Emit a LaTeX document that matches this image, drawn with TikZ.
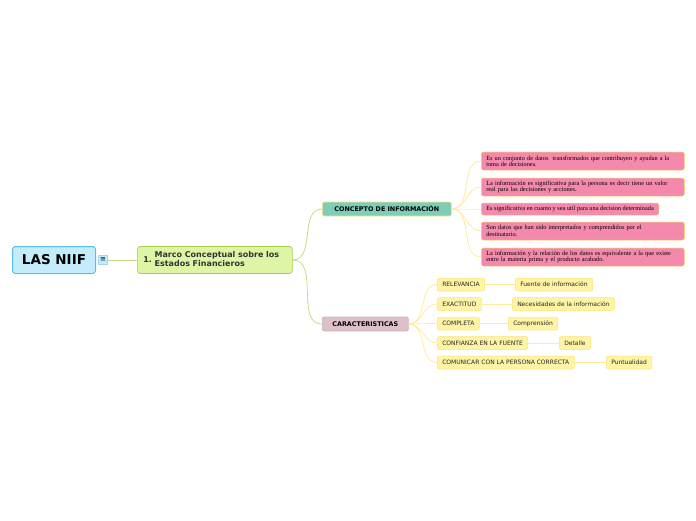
\documentclass[tikz,border=0pt]{standalone}
\usepackage{fontspec}
\setmainfont{DejaVu Sans}
\newfontfamily\notefont{Liberation Serif}
\usepackage{xcolor}
\usetikzlibrary{positioning}
\definecolor{rootfill}{HTML}{C4ECFB}
\definecolor{rootline}{HTML}{5BBCE8}
\definecolor{mainfill}{HTML}{DFF5A6}
\definecolor{mainline}{HTML}{A6CF4A}
\definecolor{conceptfill}{HTML}{7DCDB8}
\definecolor{charfill}{HTML}{DEC0C9}
\definecolor{notefill}{HTML}{F488AD}
\definecolor{itemfill}{HTML}{FFF3A6}
\definecolor{itemline}{HTML}{FFE37A}
\definecolor{branch}{HTML}{C9D98C}
\definecolor{twig}{HTML}{FFEB9C}

\begin{document}
\begin{tikzpicture}[
    x=1pt, y=-1pt,
    font=\fontsize{6}{7}\selectfont,
    root/.style={
      draw=rootline, fill=rootfill, line width=1pt, rounded corners=3pt,
      minimum width=83pt, minimum height=27pt, anchor=west,
      font=\fontsize{13.5}{15}\selectfont\bfseries
    },
    topic/.style={
      draw=mainline, fill=mainfill, line width=0.7pt, rounded corners=3pt,
      text width=143pt, inner xsep=6pt, minimum height=27pt, anchor=west, align=left,
      font=\fontsize{8}{8.6}\selectfont\bfseries, text=black!80
    },
    sub/.style={
      draw=itemline, line width=0.7pt, rounded corners=2pt,
      minimum height=14pt, anchor=west, inner xsep=5pt,
      font=\fontsize{6.4}{7}\selectfont\bfseries
    },
    note/.style={
      draw=itemline!80!orange, fill=notefill, line width=0.5pt, rounded corners=2pt,
      anchor=west, align=left, inner xsep=5pt, inner ysep=2pt,
      font=\notefont\fontsize{6.3}{6.3}\selectfont
    },
    item/.style={
      draw=itemline, fill=itemfill, line width=0.5pt, rounded corners=2pt,
      minimum height=13pt, anchor=west, inner xsep=5pt, text=black!85
    },
    limb/.style={branch, line width=0.8pt},
    twigline/.style={twig, line width=0.8pt}
  ]
    \useasboundingbox (0,0) rectangle (696,520);

    % root and first topic
    \node[root] (niif) at (12,260) {LAS NIIF};
    \node[draw=rootline!60, fill=rootfill, minimum size=9pt, inner sep=0pt,
      font=\fontsize{7}{7}\selectfont] (fold) at (103,260) {≡};
    \node[topic] (marco) at (137,260) {1.\ \begin{tabular}{@{}l@{}}Marco Conceptual sobre los\\Estados Financieros\end{tabular}};
    \draw[limb] (fold.east) -- (marco.west);

    % second level
    \node[sub, fill=conceptfill, minimum width=129pt] (concepto) at (322,209) {CONCEPTO DE INFORMACIÓN};
    \node[sub, fill=charfill, draw=charfill!70!black!60, minimum width=86pt] (carac) at (322,324) {CARACTERISTICAS};
    \draw[limb] (marco.east) to[out=0, in=180] (concepto.west);
    \draw[limb] (marco.east) to[out=0, in=180] (carac.west);

    % notes on concepto
    \node[note, text width=193pt, minimum height=18pt] (n1) at (481,161) {Es un conjunto de datos\ \ transformados que contribuyen y ayudan a la\\toma de decisiones.};
    \node[note, text width=193pt, minimum height=18pt] (n2) at (481,187) {La información es significativa para la persona es decir tiene un valor\\real para las decisiones y acciones.};
    \node[note, minimum height=12pt] (n3) at (481,209) {Es significativa en cuanto y sea util para una decision determinada};
    \node[note, text width=193pt, minimum height=18pt] (n4) at (481,231) {Son datos que han sido interpretados y comprendidos por el\\destinatario.};
    \node[note, text width=193pt, minimum height=18pt] (n5) at (481,257) {La información y la relación de los datos es equivalente a la que existe\\entre la materia prima y el producto acabado.};
    \foreach \n in {n1,n2,n3,n4,n5}
      \draw[twigline] (concepto.east) to[out=0, in=180] (\n.west);

    % characteristics
    \node[item] (rel) at (437,284.5) {RELEVANCIA};
    \node[item] (exa) at (437,304) {EXACTITUD};
    \node[item] (com) at (437,323.5) {COMPLETA};
    \node[item] (con) at (437,343) {CONFIANZA EN LA FUENTE};
    \node[item] (cmu) at (437,362.5) {COMUNICAR CON LA PERSONA CORRECTA};
    \foreach \n in {rel,exa,com,con,cmu}
      \draw[twigline] (carac.east) to[out=0, in=180] (\n.west);

    \node[item] (fue) at (515,284.5) {Fuente de información};
    \node[item] (nec) at (512,304) {Necesidades de la información};
    \node[item] (cmp) at (508,323.5) {Comprensión};
    \node[item] (det) at (559,343) {Detalle};
    \node[item] (pun) at (606,362.5) {Puntualidad};
    \draw[twigline] (rel) -- (fue);
    \draw[twigline] (exa) -- (nec);
    \draw[twigline] (com) -- (cmp);
    \draw[twigline] (con) -- (det);
    \draw[twigline] (cmu) -- (pun);
  \end{tikzpicture}
\end{document}
